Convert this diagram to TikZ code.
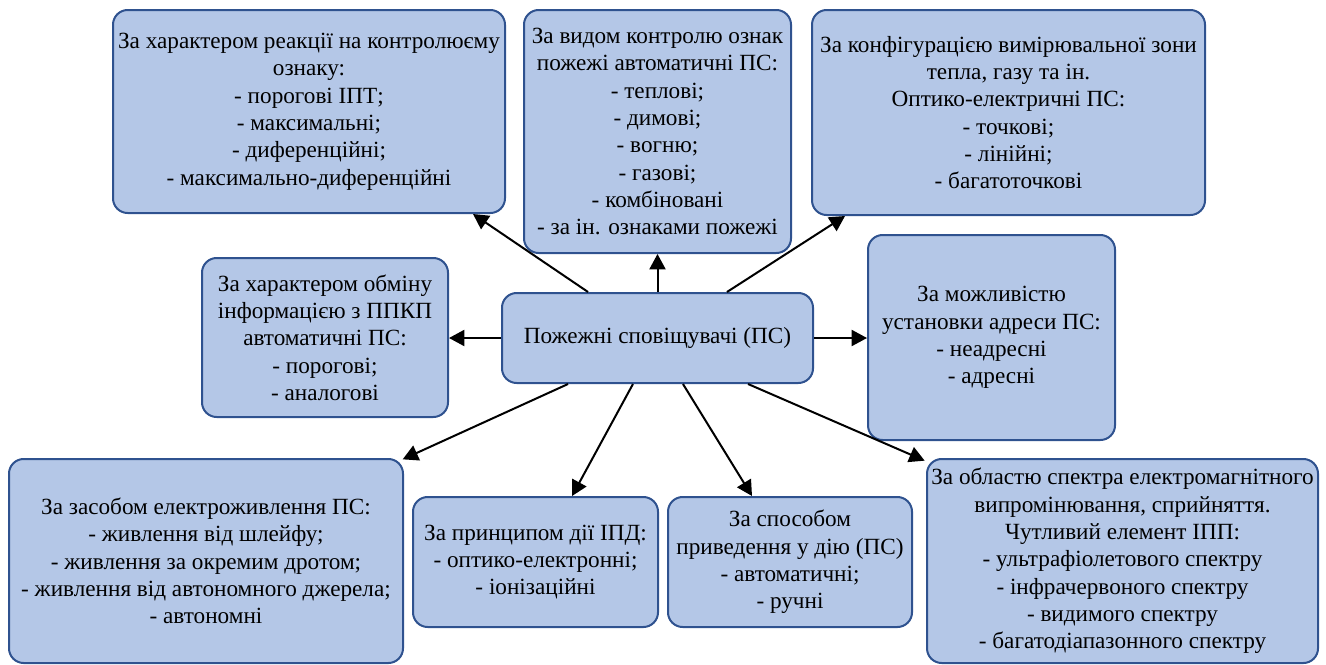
\documentclass[tikz,border=0pt]{standalone}
\usepackage{fontspec}
\setmainfont{Liberation Serif}
\usetikzlibrary{arrows.meta}
\definecolor{boxfill}{HTML}{B4C7E7}
\definecolor{boxline}{HTML}{2F528F}
\tikzset{
  box/.style={draw=boxline, fill=boxfill, line width=1.5pt, rounded corners=11pt,
    align=center, inner sep=2pt, font=\rmfamily\fontsize{17.4}{20.5}\selectfont},
  conn/.style={draw=black, line width=1.5pt, -{Triangle[length=11.5pt,width=12pt]}}
}
\begin{document}
\begin{tikzpicture}[x=0.75pt,y=-0.75pt]
\useasboundingbox (0,0) rectangle (1326,664);

\node[box, minimum width=294pt, minimum height=152.25pt] (tl) at (309,111.5)
  {За характером реакції на контролюєму\\ознаку:\\- порогові ІПТ;\\- максимальні;\\- диференційні;\\- максимально-диференційні};
\node[box, minimum width=200.25pt, minimum height=182.25pt] (tc) at (657.5,131.5)
  {За видом контролю ознак\\пожежі автоматичні ПС:\\- теплові;\\- димові;\\- вогню;\\- газові;\\- комбіновані\\- за ін. ознаками пожежі};
\node[box, minimum width=294.75pt, minimum height=153.75pt] (tr) at (1008.5,112.5)
  {За конфігурацією вимірювальної зони\\тепла, газу та ін.\\Оптико-електричні ПС:\\- точкові;\\- лінійні;\\- багатоточкові};
\node[box, minimum width=184.5pt, minimum height=119.25pt] (ml) at (325,337.5)
  {За характером обміну\\інформацією з ППКП\\автоматичні ПС:\\- порогові;\\- аналогові};
\node[box, minimum width=185.25pt, minimum height=153.75pt] (mr) at (991.5,337.5)
  {За можливістю\\установки адреси ПС:\\- неадресні\\- адресні};
\node[box, minimum width=233.25pt, minimum height=67.5pt] (c) at (657.5,338)
  {Пожежні сповіщувачі (ПС)};
\node[box, minimum width=295.5pt, minimum height=153pt] (bl) at (206,561)
  {За засобом електроживлення ПС:\\- живлення від шлейфу;\\- живлення за окремим дротом;\\- живлення від автономного джерела;\\- автономні};
\node[box, minimum width=183.75pt, minimum height=97.5pt] (bi) at (535.5,562)
  {За принципом дії ІПД:\\- оптико-електронні;\\- іонізаційні};
\node[box, minimum width=183pt, minimum height=97.5pt] (bs) at (790,562)
  {За способом\\приведення у дію (ПС)\\- автоматичні;\\- ручні};
\node[box, minimum width=293.25pt, minimum height=153pt] (br) at (1122.5,561)
  {За областю спектра електромагнітного\\випромінювання, сприйняття.\\Чутливий елемент ІПП:\\- ультрафіолетового спектру\\- інфрачервоного спектру\\- видимого спектру\\- багатодіапазонного спектру};

\draw[conn] ([xshift=-52.1pt]c.north) -- ([xshift=123pt]tl.south);
\draw[conn] (c.north) -- (tc.south);
\draw[conn] ([xshift=52.1pt]c.north) -- ([xshift=-122.6pt]tr.south);
\draw[conn] (c.west) -- (c.west -| ml.east);
\draw[conn] (c.east) -- (c.east -| mr.west);
\draw[conn] ([xshift=-67.1pt]c.south) -- ([xshift=-1pt,yshift=-1pt]bl.north east);
\draw[conn] ([xshift=-18.4pt]c.south) -- ([xshift=27.4pt]bi.north);
\draw[conn] ([xshift=19.1pt]c.south) -- ([xshift=-28.5pt]bs.north);
\draw[conn] ([xshift=67.9pt]c.south) -- ([xshift=-1pt,yshift=-2pt]br.north west);
\end{tikzpicture}
\end{document}
